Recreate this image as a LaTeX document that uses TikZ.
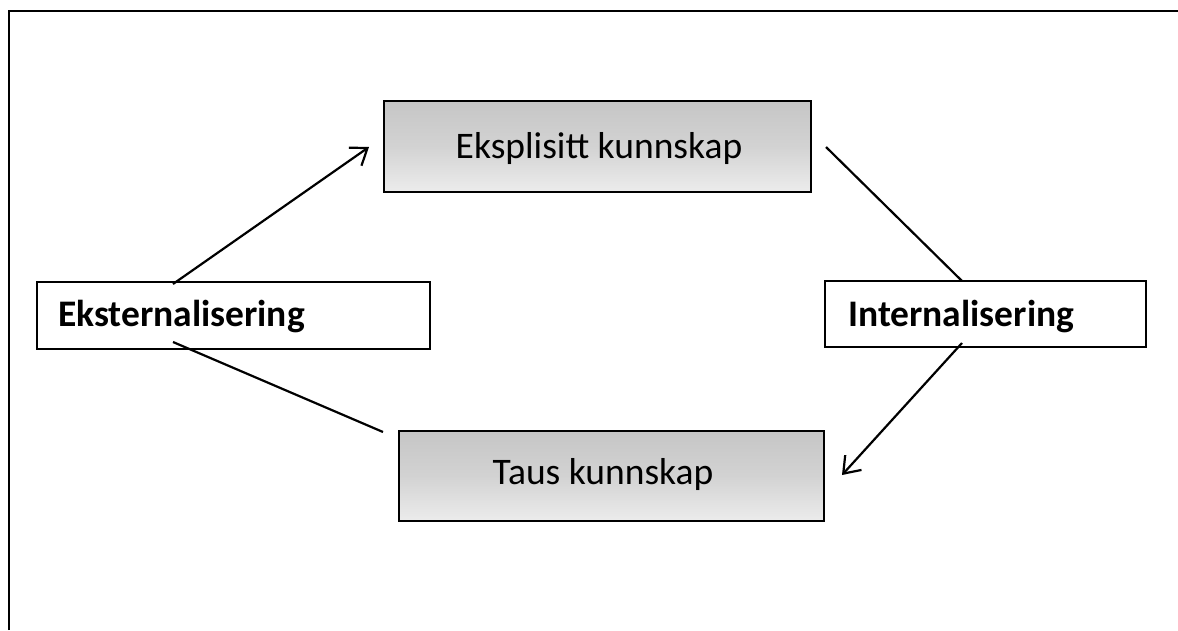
\documentclass[tikz,border=0pt]{standalone}
\usepackage{fontspec}
\setmainfont{Carlito}
\usetikzlibrary{arrows.meta}
\begin{document}
\begin{tikzpicture}[x=1pt,y=-1pt,
  kbox/.style={draw=black,line width=2pt,top color=gray!45,bottom color=gray!15,middle color=gray!35,inner sep=0pt},
  pbox/.style={draw=black,line width=2pt,fill=white,inner sep=0pt},
  lbl/.style={font=\fontsize{37.5}{42}\selectfont,inner sep=0pt,anchor=base},
  blbl/.style={font=\fontsize{37.5}{42}\selectfont\bfseries,inner sep=0pt,anchor=base west},
  conn/.style={line width=2.2pt},
  arr/.style={conn,-{Straight Barb[length=15pt,width=22pt,line width=2.2pt]}}]
\useasboundingbox (0,0) rectangle (1178,630);
\fill[white] (0,0) rectangle (1178,630);
% frame (only top and left visible)
\draw[line width=2.6pt] (9,630) -- (9,11) -- (1178,11);
% boxes
\node[kbox,minimum width=427pt,minimum height=91pt] (eks) at (597,146) {};
\node[lbl] at (599,158) {Eksplisitt kunnskap};
\node[kbox,minimum width=425pt,minimum height=90pt] (taus) at (611.5,476) {};
\node[lbl] at (603,484) {Taus kunnskap};
\node[pbox,minimum width=393pt,minimum height=67pt] (ext) at (233.5,315.5) {};
\node[blbl] at (58,326) {Eksternalisering};
\node[pbox,minimum width=321pt,minimum height=66pt] (int) at (985.5,314) {};
\node[blbl] at (848,326) {Internalisering};
% connector endpoints
\coordinate (a1) at (173,284);
\coordinate (a2) at (369,147);
\coordinate (b1) at (826,147);
\coordinate (b2) at (962,281);
\coordinate (c1) at (962,343);
\coordinate (c2) at (842,475);
\coordinate (d1) at (383,432);
\coordinate (d2) at (173,342);
\draw[arr] (a1) -- (a2);
\draw[conn] (b1) -- (b2);
\draw[arr] (c1) -- (c2);
\draw[conn] (d1) -- (d2);
\end{tikzpicture}
\end{document}
